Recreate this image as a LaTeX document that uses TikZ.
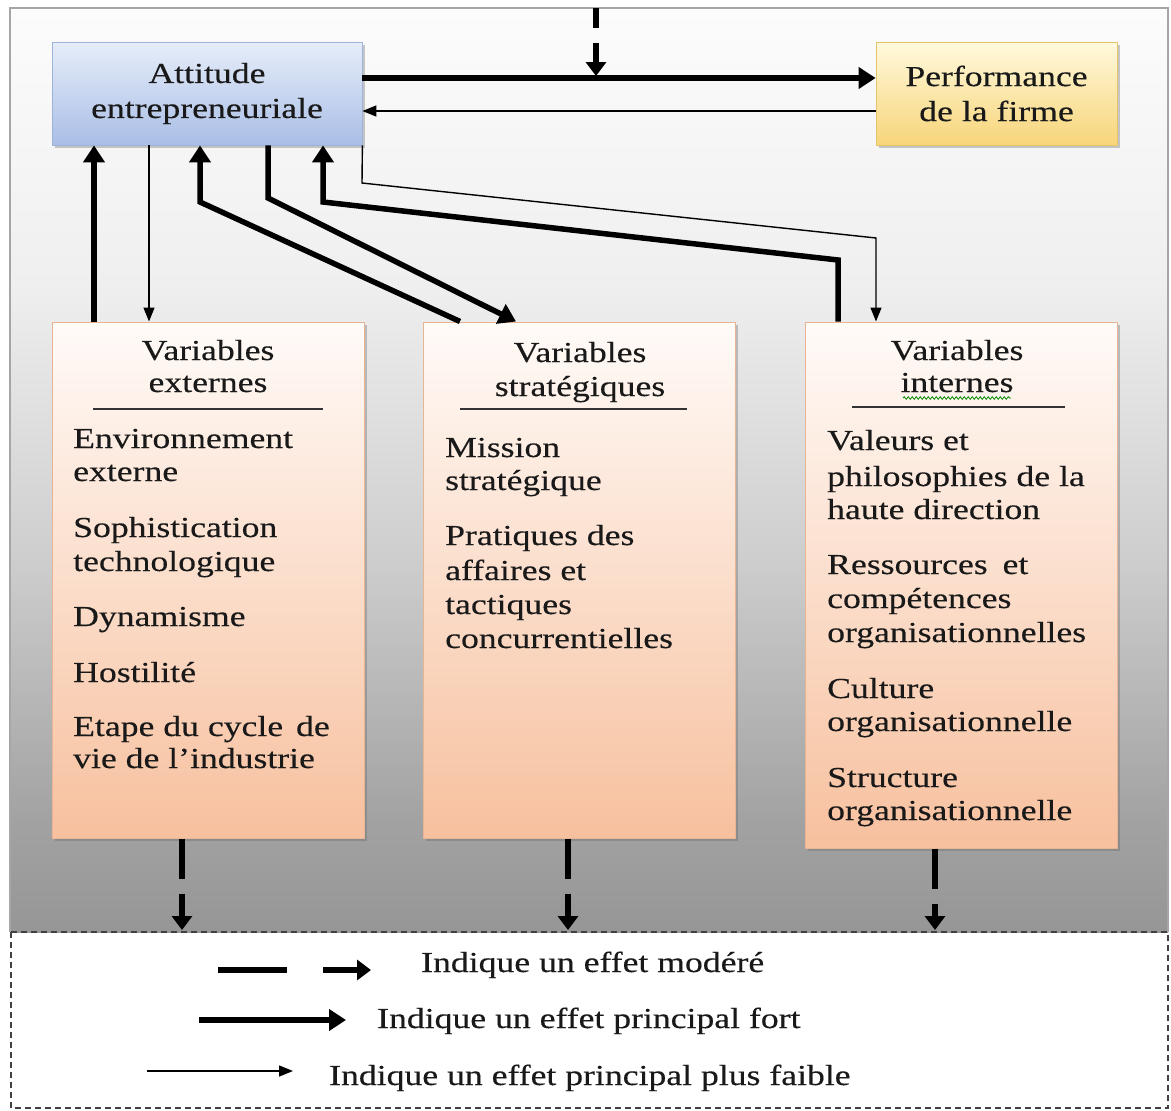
\documentclass[tikz,border=0pt]{standalone}
\usepackage{fontspec}
\setmainfont{Liberation Serif}[FakeStretch=1.23,FakeBold=0.3]
\usetikzlibrary{arrows.meta,shadows,decorations.pathmorphing,calc}
\definecolor{bgA}{HTML}{969696}
\definecolor{bgB}{HTML}{A2A2A2}
\definecolor{bgC}{HTML}{CDCDCD}
\definecolor{bgD}{HTML}{EFEFEF}
\definecolor{bgE}{HTML}{FCFCFC}
\definecolor{attTop}{HTML}{E6EDF9}
\definecolor{attBot}{HTML}{A9BEE6}
\definecolor{attLine}{HTML}{9DB3DA}
\definecolor{perfTop}{HTML}{FFF9DD}
\definecolor{perfBot}{HTML}{F7D57A}
\definecolor{perfLine}{HTML}{E5C46A}
\definecolor{varTop}{HTML}{FFFBF8}
\definecolor{varBot}{HTML}{F7C09E}
\definecolor{varLine}{HTML}{E9B493}
\pgfdeclareverticalshading{bgshade}{100bp}{color(0bp)=(bgA); color(25bp)=(bgA); color(31bp)=(bgB); color(45bp)=(bgC); color(60bp)=(bgD); color(75bp)=(bgE); color(100bp)=(bgE)}
\begin{document}
\begin{tikzpicture}[x=1pt,y=-1pt,
  txt/.style={font=\fontsize{29}{33}\selectfont, inner sep=0pt, text=black!90},
  boxshadow/.style={drop shadow={shadow xshift=2.5pt, shadow yshift=-3pt, opacity=0.35, fill=black!60}},
  attbox/.style={txt, align=center, minimum width=310pt, minimum height=103pt, top color=attTop, bottom color=attBot, draw=attLine, line width=0.8pt, boxshadow},
  perfbox/.style={txt, align=center, minimum width=241pt, minimum height=103pt, top color=perfTop, bottom color=perfBot, draw=perfLine, line width=0.8pt, boxshadow},
  varbox/.style={minimum width=312pt, top color=varTop, bottom color=varBot, draw=varLine, line width=1pt, boxshadow},
  strong/.style={line width=5.5pt, -{Triangle[length=17pt,width=21pt]}},
  weak/.style={line width=1.4pt, -{Triangle[length=14pt,width=11pt]}},
  moder/.style={line width=6pt, dash pattern=on 40pt off 15pt, -{Triangle[length=14pt,width=20pt]}},
  rulebar/.style={line width=1.6pt, black!80}
]
\useasboundingbox (0,0) rectangle (1171,1111);
\fill[white] (0,0) rectangle (1171,1111);
\shade[shading=bgshade] (10,8) rectangle (1168,932);
\draw[gray!70, line width=1.2pt] (10,932) -- (10,8) -- (1168,8) -- (1168,932);
\draw[black!75, line width=1.3pt, dash pattern=on 6pt off 4pt] (11,932) rectangle (1168,1108);

% main nodes
\node[attbox] (att) at (207,93.5) {Attitude\\[2pt]entrepreneuriale};
\node[perfbox] (perf) at (996.5,93.5) {Performance\\[2pt]de la firme};
\node[varbox, minimum height=516pt] (ext) at (208,580) {};
\node[varbox, minimum height=516pt] (strat) at (579,580) {};
\node[varbox, minimum height=526pt] (int) at (961,585) {};

% headings
\node[txt, anchor=base] (hE1) at (208,360) {Variables};
\node[txt, anchor=base] (hE2) at (208,392) {externes};
\draw[rulebar] (93,409) -- (323,409);
\node[txt, anchor=base] (hS1) at (580,362) {Variables};
\node[txt, anchor=base] (hS2) at (580,396) {stratégiques};
\draw[rulebar] (460,409) -- (687,409);
\node[txt, anchor=base] (hI1) at (957,360) {Variables};
\node[txt, anchor=base] (hI2) at (957,392) {internes};
\draw[green!55!black, line width=0.8pt, decorate, decoration={snake, amplitude=1.3pt, segment length=4pt}] (903,398) -- (1011,398);
\draw[rulebar] (852,407) -- (1065,407);

% list items
\foreach \yy/\lbl [count=\i] in {448/Environnement, 481/externe, 537/Sophistication, 571/technologique, 626/Dynamisme, 682/Hostilité, 736/{Etape du cycle\hspace{4pt} de}, 768/vie de l’industrie}
  \node[txt, anchor=base west] (le\i) at (73,\yy) {\lbl};
\foreach \yy/\lbl [count=\i] in {457/Mission, 490/stratégique, 545/Pratiques des, 580/affaires et, 614/tactiques, 648/concurrentielles}
  \node[txt, anchor=base west] (ls\i) at (445,\yy) {\lbl};
\foreach \yy/\lbl [count=\i] in {450/Valeurs et, 486/philosophies de la, 519/haute direction, 574/{Ressources\hspace{6pt} et}, 608/compétences, 642/organisationnelles, 698/Culture, 731/organisationnelle, 787/Structure, 820/organisationnelle}
  \node[txt, anchor=base west] (li\i) at (827,\yy) {\lbl};

% helper coordinates
\coordinate (x94) at (94,0);
\coordinate (x149) at (149,0);
\coordinate (x200) at (200,0);
\coordinate (x268) at (268,0);
\coordinate (x323) at (323,0);
\coordinate (x460) at (460,0);
\coordinate (x516) at (516,0);
\coordinate (x838) at (838,0);
\coordinate (x876) at (876,0);
\coordinate (x182) at (182,0);
\coordinate (x568) at (568,0);
\coordinate (x935) at (935,0);
\coordinate (y78) at (0,78);
\coordinate (y111) at (0,111);
\coordinate (legtop) at (0,930);
\coordinate (topsrc) at (596,8);
\coordinate (topend) at (596,76);

% connectors
\draw[strong] (att.east |- y78) -- (perf.west |- y78);
\draw[weak] (perf.west |- y111) -- (att.east |- y111);
\draw[moder, dash phase=20pt] (topsrc) -- (topend);

\draw[strong] (x94 |- ext.north) -- (x94 |- att.south);
\draw[weak] (x149 |- att.south) -- (x149 |- ext.north);
\draw[strong] (x460 |- strat.north) -- (200,202) -- (x200 |- att.south);
\draw[strong] (x268 |- att.south) -- (268,198) -- (x516 |- strat.north);
\draw[strong] (x838 |- int.north) -- (838,260) -- (323,202) -- (x323 |- att.south);
\draw[weak] (att.south east) -- (362,183) -- (876,238) -- (x876 |- int.north);

\draw[moder] (x182 |- ext.south) -- (x182 |- legtop);
\draw[moder] (x568 |- strat.south) -- (x568 |- legtop);
\draw[moder] (x935 |- int.south) -- (x935 |- legtop);

% legend
\coordinate (lgA1) at (218,970);
\coordinate (lgA2) at (371,970);
\coordinate (lgB1) at (199,1020);
\coordinate (lgB2) at (346,1020);
\coordinate (lgC1) at (147,1071);
\coordinate (lgC2) at (293,1071);
\draw[moder, dash pattern=on 69pt off 36pt] (lgA1) -- (lgA2);
\draw[strong] (lgB1) -- (lgB2);
\draw[weak] (lgC1) -- (lgC2);
\node[txt, anchor=base west] (tA) at (421,972) {Indique un effet modéré};
\node[txt, anchor=base west] (tB) at (377,1028) {Indique un effet principal fort};
\node[txt, anchor=base west] (tC) at (329,1085) {Indique un effet principal plus faible};
\end{tikzpicture}
\end{document}
